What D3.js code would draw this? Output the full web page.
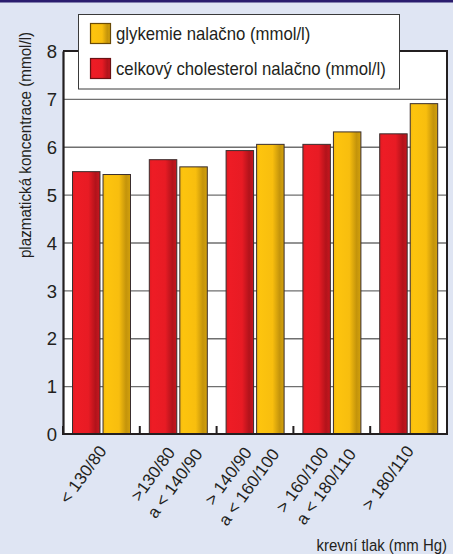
<!DOCTYPE html>
<html>
<head>
<meta charset="utf-8">
<script src="https://cdn.jsdelivr.net/npm/d3@7"></script>
<style>
  html, body { margin: 0; padding: 0; background: #dfe5f3; }
  svg { display: block; }
  text { font-family: "Liberation Sans", Arial, Helvetica, sans-serif; fill: #231f20; }
</style>
</head>
<body>
<svg id="chart" width="453" height="554"></svg>
<script>
// Blood pressure groups (each entry = lines of the rotated axis label)
const categories = ["g1", "g2", "g3", "g4", "g5"];
const categoryLabels = [
  ["< 130/80"],
  [">130/80", "a < 140/90"],
  ["> 140/90", "a < 160/100"],
  ["> 160/100", "a < 180/110"],
  ["> 180/110"]
];
// Fasting total cholesterol and fasting glycaemia, mmol/l
const cholesterol = [5.48, 5.73, 5.92, 6.05, 6.27];
const glycemia = [5.42, 5.58, 6.05, 6.31, 6.90];
const yTicks = [0, 1, 2, 3, 4, 5, 6, 7, 8];
const seriesNames = ["chol", "gly"];
const legendLabels = ["glykemie nalačno (mmol/l)", "celkový cholesterol nalačno (mmol/l)"];
const yTitle = "plazmatická koncentrace (mmol/l)";
const xTitle = "krevní tlak (mm Hg)";

const svg = d3.select("#chart");
const W = 453, H = 554;
const plot = { left: 63, right: 447, top: 51, bottom: 434 };

// page background and top rule
svg.append("rect").attr("width", W).attr("height", H).attr("fill", "#dfe5f3");
svg.append("rect").attr("width", W).attr("height", 2.5).attr("fill", "#2b1d6e");

// gradients for the cylinder-like bars
const defs = svg.append("defs");
function grad(id, stops) {
  const g = defs.append("linearGradient").attr("id", id)
    .attr("x1", "0%").attr("x2", "100%").attr("y1", "0%").attr("y2", "0%");
  stops.forEach(([o, c]) => g.append("stop").attr("offset", o).attr("stop-color", c));
}
grad("gRed", [["0%", "#e01b22"], ["12%", "#ee1c25"], ["58%", "#e81b24"], ["84%", "#b2131b"], ["100%", "#c8171f"]]);
grad("gYel", [["0%", "#f6ba10"], ["12%", "#fdc40e"], ["58%", "#f8be0e"], ["84%", "#c4940b"], ["100%", "#d3a10d"]]);
const fills = { chol: "url(#gRed)", gly: "url(#gYel)" };

const x = d3.scaleBand().domain(categories).range([plot.left, plot.right]).padding(0);
const inner = d3.scaleBand().domain(seriesNames)
  .range([9.5, x.bandwidth() - 9.3]).paddingInner(0.1);
const y = d3.scaleLinear().domain([0, 8]).range([plot.bottom, plot.top]);

// plot area
svg.append("rect")
  .attr("x", plot.left).attr("y", plot.top)
  .attr("width", plot.right - plot.left).attr("height", plot.bottom - plot.top)
  .attr("fill", "#ffffff");

// horizontal gridlines
const grid = svg.append("g").attr("transform", `translate(${plot.left},0)`)
  .call(d3.axisLeft(y).tickValues(yTicks.filter(v => v > 0 && v < 8))
    .tickSize(-(plot.right - plot.left)).tickFormat(""));
grid.select(".domain").remove();
grid.selectAll("line").attr("stroke", "#6f6f6f").attr("stroke-width", 1.4);

// bars
const rows = categories.map((c, i) => ({ c, chol: cholesterol[i], gly: glycemia[i] }));
const groups = svg.append("g").selectAll("g").data(rows).join("g")
  .attr("transform", d => `translate(${x(d.c)},0)`);
groups.selectAll("rect")
  .data(d => seriesNames.map(k => ({ k, v: d[k] })))
  .join("rect")
  .attr("x", d => inner(d.k))
  .attr("width", inner.bandwidth())
  .attr("y", d => y(d.v))
  .attr("height", d => y(0) - y(d.v))
  .attr("fill", d => fills[d.k])
  .attr("stroke", "#3a2e2e")
  .attr("stroke-width", 1);

// frame: top and right edges
svg.append("path")
  .attr("d", `M${plot.left},${y(8)}H${plot.right}V${plot.bottom}`)
  .attr("fill", "none").attr("stroke", "#231f20").attr("stroke-width", 2);

// y axis with labels
const yAxis = svg.append("g").attr("transform", `translate(${plot.left},0)`)
  .call(d3.axisLeft(y).tickValues(yTicks).tickSize(0).tickPadding(6).tickFormat(d3.format("d")));
yAxis.select(".domain").attr("stroke", "#231f20").attr("stroke-width", 2.2);
yAxis.selectAll("text")
  .attr("font-size", 18.5).attr("fill", "#231f20")
  .attr("font-family", "Liberation Sans, Arial, sans-serif")
  .attr("dy", "0.36em");

// x axis: baseline with upward ticks between groups
const bounds = categories.map(c => x(c));
const xAxisG = svg.append("g");
xAxisG.append("line")
  .attr("x1", plot.left - 1).attr("x2", plot.right + 1)
  .attr("y1", plot.bottom).attr("y2", plot.bottom)
  .attr("stroke", "#231f20").attr("stroke-width", 2.2);
xAxisG.selectAll("line.tick").data(bounds).join("line").attr("class", "tick")
  .attr("x1", d => d).attr("x2", d => d)
  .attr("y1", plot.bottom).attr("y2", plot.bottom - 8)
  .attr("stroke", "#231f20").attr("stroke-width", 2);

// rotated category labels
const labelG = svg.append("g");
categories.forEach((c, i) => {
  const cx = x(c) + x.bandwidth() / 2;
  const lines = categoryLabels[i];
  lines.forEach((t, j) => {
    let dx, yy;
    if (lines.length === 1) { dx = 6; yy = 451; }
    else if (j === 0) { dx = -2.4; yy = 452.5; }
    else { dx = 25; yy = 454; }
    labelG.append("text")
      .attr("transform", `translate(${cx + dx},${yy}) rotate(-54)`)
      .attr("text-anchor", "end")
      .attr("font-size", 17)
      .text(t);
  });
});

// axis titles
svg.append("text")
  .attr("transform", `translate(30.5,145) rotate(-90) scale(0.95,1)`)
  .attr("text-anchor", "middle")
  .attr("font-size", 16)
  .text(yTitle);
svg.append("text")
  .attr("transform", `translate(447,550.5) scale(0.88,1)`)
  .attr("text-anchor", "end")
  .attr("font-size", 17)
  .text(xTitle);

// legend
const leg = svg.append("g");
leg.append("rect")
  .attr("x", 78.5).attr("y", 14.5).attr("width", 321).attr("height", 74.5)
  .attr("fill", "#ffffff").attr("stroke", "#3a3a3a").attr("stroke-width", 1);
const legItems = [
  { label: legendLabels[0], fill: fills.gly, stroke: "#6a4a06" },
  { label: legendLabels[1], fill: fills.chol, stroke: "#6a1214" }
];
legItems.forEach((d, i) => {
  const yy = 23.5 + i * 35;
  leg.append("rect")
    .attr("x", 90.5).attr("y", yy).attr("width", 20).attr("height", 20)
    .attr("fill", d.fill).attr("stroke", d.stroke).attr("stroke-width", 1.2);
  leg.append("text")
    .attr("transform", `translate(116,${yy + 16.5}) scale(0.93,1)`)
    .attr("font-size", 18)
    .text(d.label);
});
</script>
</body>
</html>
